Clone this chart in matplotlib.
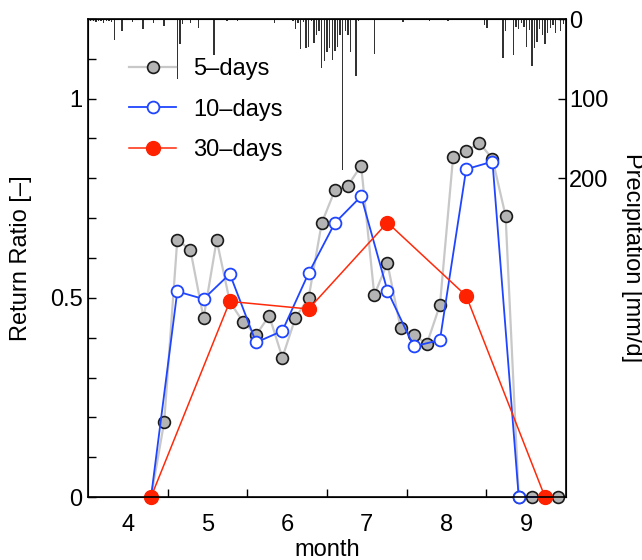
import numpy as np
import matplotlib
matplotlib.use("Agg")
import matplotlib.pyplot as plt
from matplotlib.ticker import MultipleLocator, FixedLocator, NullFormatter

plt.rcParams['font.family'] = ['Liberation Sans', 'DejaVu Sans']

# return ratio, averaged over 5, 10 and 30 day windows (day of year)
day5 = np.arange(115, 271, 5)
ratio5 = [0.0, 0.188, 0.646, 0.62, 0.449, 0.645, 0.49, 0.44, 0.407, 0.455, 0.35,
          0.45, 0.50, 0.688, 0.77, 0.782, 0.832, 0.507, 0.587, 0.425, 0.407,
          0.384, 0.482, 0.853, 0.868, 0.889, 0.849, 0.706, 0.0, 0.0, 0.0, 0.0]

day10 = np.arange(115, 266, 10)
ratio10 = [0.0, 0.516, 0.497, 0.560, 0.388, 0.417, 0.562, 0.688, 0.755, 0.518,
           0.378, 0.394, 0.823, 0.842, 0.0, 0.0]

day30 = np.arange(115, 266, 30)
ratio30 = [0.0, 0.491, 0.472, 0.689, 0.505, 0.0]

# daily precipitation (day of year, mm/d)
rain_day = [92, 93, 94, 95, 96, 97, 98, 99, 100, 101, 104, 108, 112, 116, 120,
            125, 126, 127, 130, 133, 139, 144, 148, 155, 162, 166, 169,
            170, 171, 172, 173, 174, 175, 176, 177, 178, 179, 180, 181, 182,
            183, 184, 185, 186, 187, 188, 189, 190, 191, 193, 194, 200, 211,
            216, 221, 223, 228, 242, 243, 249, 250, 253, 254, 255, 256, 257,
            258, 259, 260, 261, 262, 263, 264, 265, 266, 267, 268, 269, 271, 272]
rain_mm = [3, 2, 4, 2, 3, 5, 2, 3, 4, 26, 15, 4, 13, 5, 9,
           75, 32, 6, 5, 11, 45, 3, 2, 1, 5, 1, 2,
           13, 5, 38, 4, 37, 35, 3, 30, 20, 15, 61, 53, 41,
           36, 51, 40, 35, 20, 189, 15, 20, 42, 72, 3, 44, 4,
           1, 2, 1, 2, 8, 11, 49, 15, 45, 10, 12, 5, 10,
           35, 14, 59, 36, 29, 13, 20, 32, 18, 11, 8, 18, 15, 6]

month_ticks = [5, 6, 7, 8, 9]
month_labels = ['4', '5', '6', '7', '8', '9']

FS = 17


def to_month(doy):
    return 4 + (np.asarray(doy) - 91) * 6 / 182


fig = plt.figure(figsize=(6.42, 5.6), dpi=100)
ax = fig.add_axes([88 / 642, 63 / 560, 478 / 642, 478 / 560])
ax2 = ax.twinx()
ax.set_zorder(ax2.get_zorder() + 1)
ax.patch.set_visible(False)

# precipitation bars hanging from the top
ax2.bar(to_month(rain_day), rain_mm, width=0.018, color='#333333')
ax2.set_ylim(600, 0)
ax2.set_yticks([0, 100, 200])
ax2.tick_params(axis='y', direction='in', length=6, width=1, pad=2, labelsize=FS)
ax2.set_ylabel('Precipitation [mm/d]', fontsize=FS, rotation=270, va='bottom')
ax2.yaxis.set_label_coords(1.115, 0.5)

ax.plot(to_month(day5), ratio5, '-o', color='#c8c8c8', lw=1.6, mfc='#b4b4b4',
        mec='#1a1a1a', mew=1.2, ms=8.5, clip_on=False, label='5–days')
ax.plot(to_month(day10), ratio10, '-o', color='#1f45ff', lw=1.3, mfc='white',
        mec='#1f45ff', mew=1.3, ms=8.5, clip_on=False, label='10–days')
ax.plot(to_month(day30), ratio30, '-o', color='#ff2a0a', lw=1.1, mfc='#ff2200',
        mec='#ff2200', ms=10, clip_on=False, label='30–days')

ax.set_xlim(4, 10)
ax.set_ylim(0, 1.2)
ax.xaxis.set_major_locator(FixedLocator(month_ticks))
ax.xaxis.set_major_formatter(NullFormatter())
ax.xaxis.set_minor_locator(FixedLocator([m + 0.5 for m in range(4, 10)]))
ax.set_xticklabels(month_labels, minor=True)
ax.tick_params(axis='x', which='major', direction='in', length=6, width=1)
ax.tick_params(axis='x', which='minor', length=0, pad=12, labelsize=FS)

ax.set_yticks([0, 0.5, 1])
ax.set_yticklabels(['0', '0.5', '1'])
ax.yaxis.set_minor_locator(MultipleLocator(0.1))
ax.tick_params(axis='y', which='both', direction='in', length=6, width=1, pad=4,
               labelsize=FS)

ax.set_xlabel('month', fontsize=FS)
ax.xaxis.set_label_coords(0.5, -0.088)
ax.set_ylabel('Return Ratio [–]', fontsize=FS)
ax.yaxis.set_label_coords(-0.118, 0.5)

for sp in ax.spines.values():
    sp.set_linewidth(1.2)

ax.legend(loc='upper left', bbox_to_anchor=(0.086, 0.918), frameon=False,
          handlelength=2.0, handletextpad=0.7, labelspacing=0.78, fontsize=FS,
          borderpad=0, borderaxespad=0)

plt.savefig('out.png', dpi=100)
